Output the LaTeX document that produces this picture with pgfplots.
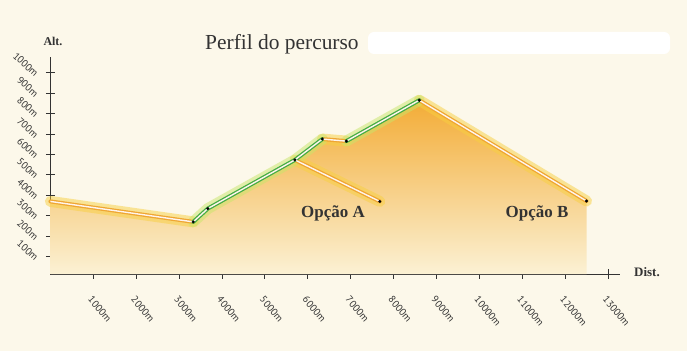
\documentclass[border=0pt]{standalone}
\usepackage{pgfplots}
\pgfplotsset{compat=1.18}
\usepackage{fontspec}
\setmainfont{Liberation Serif}
\newfontfamily\tickfont{PT Sans}
\definecolor{bg}{HTML}{FCF8EA}
\definecolor{axisgray}{HTML}{333333}
\definecolor{fillTop}{HTML}{F3AC36}
\definecolor{fillMid}{HTML}{F6CF78}
\definecolor{fillBot}{HTML}{FBF1D4}
\definecolor{glowY}{HTML}{F8D040}
\definecolor{coreO}{HTML}{EFA632}
\definecolor{glowG}{HTML}{C8E66A}
\definecolor{coreG}{HTML}{45AC44}
\definecolor{centerW}{HTML}{FFF4EC}
\pgfplotstableread{
d alt
0 370
3330 270
3670 335
5700 573
6340 675
6900 665
8600 865
12500 372
12500 15
0 15
}\areatable
\begin{document}
\begin{tikzpicture}
\fill[bg] (0bp,0bp) rectangle (687bp,351bp);
\begin{axis}[
  at={(50.4bp,77bp)}, anchor=south west,
  scale only axis, width=569.6bp, height=216.7bp,
  xmin=0, xmax=13280, ymin=15, ymax=1075,
  scaled x ticks=false, scaled y ticks=false,
  axis lines=left, axis line style={-, line width=0.9bp, color=axisgray},
  xtick={1000,2000,...,13000}, ytick={100,200,...,1000},
  xticklabels={1000m,2000m,3000m,4000m,5000m,6000m,7000m,8000m,9000m,10000m,11000m,12000m,13000m},
  yticklabels={100m,200m,300m,400m,500m,600m,700m,800m,900m,1000m},
  tick align=center, major tick length=9bp,
  tick style={line width=0.9bp, color=axisgray},
  xticklabel style={font=\tickfont\fontsize{10}{11}\selectfont, text=axisgray, xshift=-3bp, yshift=-19bp, rotate=-50, anchor=west, inner sep=0pt},
  yticklabel style={font=\tickfont\fontsize{10}{11}\selectfont, text=axisgray, xshift=-9bp, yshift=-2bp, rotate=-42, anchor=east, inner sep=0pt},
  clip=false,
]
% filled area
\addplot[draw=none, shading=axis, top color=fillTop, middle color=fillMid, bottom color=fillBot] table[x=d,y=alt] {\areatable};
% glow layer
\addplot[glowY, line width=11bp, opacity=0.5, line join=round, line cap=round] coordinates {(0,370) (3330,270)};
\addplot[glowY, line width=11bp, opacity=0.5, line join=round, line cap=round] coordinates {(6340,675) (6900,665)};
\addplot[glowY, line width=11bp, opacity=0.5, line join=round, line cap=round] coordinates {(8600,865) (12500,372)};
\addplot[glowY, line width=11bp, opacity=0.5, line join=round, line cap=round] coordinates {(5700,573) (7680,370)};
\addplot[glowG, line width=11bp, opacity=0.5, line join=round, line cap=round] coordinates {(3330,270) (3670,335) (5700,573) (6340,675)};
\addplot[glowG, line width=11bp, opacity=0.5, line join=round, line cap=round] coordinates {(6900,665) (8600,865)};
% cores
\addplot[coreO, line width=4bp, line join=round, line cap=round] coordinates {(0,370) (3330,270)};
\addplot[coreO, line width=4bp, line join=round, line cap=round] coordinates {(6340,675) (6900,665)};
\addplot[coreO, line width=4bp, line join=round, line cap=round] coordinates {(8600,865) (12500,372)};
\addplot[coreO, line width=4bp, line join=round, line cap=round] coordinates {(5700,573) (7680,370)};
\addplot[coreG, line width=4bp, line join=round, line cap=round] coordinates {(3330,270) (3670,335) (5700,573) (6340,675)};
\addplot[coreG, line width=4bp, line join=round, line cap=round] coordinates {(6900,665) (8600,865)};
% white center
\addplot[centerW, line width=1.4bp, line join=round] coordinates {(0,370) (3330,270)};
\addplot[centerW, line width=1.4bp, line join=round] coordinates {(3330,270) (3670,335) (5700,573) (6340,675) (6900,665) (8600,865) (12500,372)};
\addplot[centerW, line width=1.4bp, line join=round] coordinates {(5700,573) (7680,370)};
% dots
\addplot[only marks, mark=*, mark size=1.3bp, black] coordinates {(3330,270) (3670,335) (5700,573) (6340,675) (6900,665) (8600,865) (12500,372) (7680,370)};
\end{axis}
% texts
\node[anchor=base west, text=axisgray, font=\fontsize{21.5}{24}\selectfont, inner sep=0pt] at (205bp,301bp) {Perfil do percurso};
\fill[white, rounded corners=6bp] (368bp,297bp) rectangle (670bp,319bp);
\node[anchor=base, text=axisgray, font=\bfseries\fontsize{12}{14}\selectfont, inner sep=0pt] at (53bp,305bp) {Alt.};
\node[anchor=base west, text=axisgray, font=\bfseries\fontsize{13}{15}\selectfont, inner sep=0pt] at (634bp,74bp) {Dist.};
\node[anchor=base, text=axisgray, font=\bfseries\fontsize{17}{19}\selectfont, inner sep=0pt] at (333bp,133bp) {Opção A};
\node[anchor=base, text=axisgray, font=\bfseries\fontsize{17}{19}\selectfont, inner sep=0pt] at (537bp,133bp) {Opção B};
\end{tikzpicture}
\end{document}
